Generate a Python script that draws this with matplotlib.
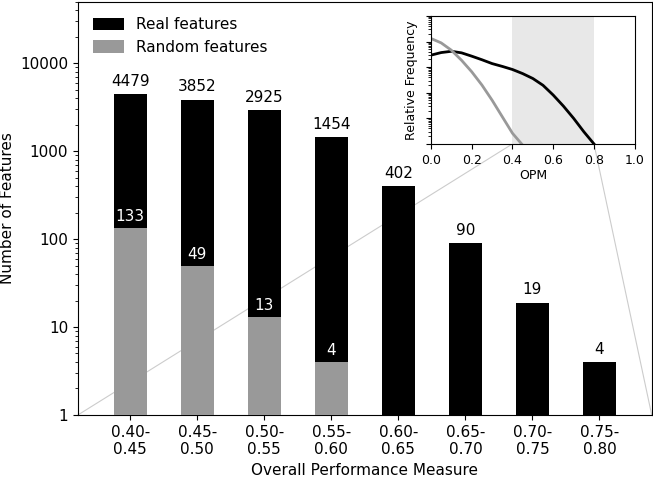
import matplotlib
matplotlib.use("Agg")
import matplotlib.pyplot as plt
from matplotlib.patches import ConnectionPatch
from matplotlib.ticker import LogLocator, NullFormatter
import numpy as np

# bar data
bins = ["0.40-\n0.45", "0.45-\n0.50", "0.50-\n0.55", "0.55-\n0.60",
        "0.60-\n0.65", "0.65-\n0.70", "0.70-\n0.75", "0.75-\n0.80"]
real_counts = [4479, 3852, 2925, 1454, 402, 90, 19, 4]
random_counts = [133, 49, 13, 4, 0, 0, 0, 0]

# inset curves
opm_real = [0.0, 0.05, 0.1, 0.15, 0.2, 0.25, 0.3, 0.35, 0.4, 0.45,
            0.5, 0.55, 0.6, 0.65, 0.7, 0.75, 0.81]
freq_real = [0.0295, 0.0372, 0.0417, 0.0363, 0.0269, 0.0195, 0.0138, 0.0107,
             0.0081, 0.0056, 0.0036, 0.00195, 0.00081, 0.0003, 1.0e-4, 3.0e-5, 8e-6]
opm_rand = [0.0, 0.05, 0.1, 0.15, 0.2, 0.25, 0.3, 0.35, 0.4, 0.455]
freq_rand = [0.132, 0.089, 0.046, 0.0186, 0.0066, 0.0020, 0.00051, 0.000115,
             2.6e-5, 8e-6]

fig = plt.figure(figsize=(6.53, 4.78), dpi=100)
ax = fig.add_axes([0.1195, 0.132, 0.8785, 0.864])

x = np.arange(len(bins))
ax.bar(x, real_counts, width=0.5, color="black", label="Real features", zorder=2)
rx = [i for i, v in enumerate(random_counts) if v > 0]
ry = [v for v in random_counts if v > 0]
ax.bar(rx, ry, width=0.5, color="#999999", label="Random features", zorder=3)

ax.set_yscale("log")
ax.set_ylim(1, 50000)
ax.set_xlim(-0.78, 7.78)
ax.set_yticks([1, 10, 100, 1000, 10000])
ax.set_yticklabels(["1", "10", "100", "1000", "10000"])
ax.set_xticks(x)
ax.set_xticklabels(bins)
ax.tick_params(labelsize=11)
ax.set_xlabel("Overall Performance Measure", fontsize=11)
ax.set_ylabel("Number of Features", fontsize=11)

for i, v in enumerate(real_counts):
    ax.text(i, v * 1.15, str(v), ha="center", va="bottom", fontsize=11)
for i, v in zip(rx, ry):
    ax.text(i, v * 1.12, str(v), ha="center", va="bottom", fontsize=11,
            color="white", zorder=4)

ax.legend(loc="upper left", frameon=False, fontsize=11,
          handlelength=2.0, handleheight=0.9, borderaxespad=0.6)

# inset
ins = fig.add_axes([0.66, 0.699, 0.312, 0.2675])
ins.axvspan(0.4, 0.8, color="#e8e8e8", lw=0)
ins.plot(opm_real, freq_real, color="black", lw=2)
ins.plot(opm_rand, freq_rand, color="#999999", lw=2)
ins.set_yscale("log")
ins.set_ylim(1e-5, 1)
ins.set_xlim(0, 1)
ins.yaxis.set_major_locator(LogLocator(base=10, numticks=10))
ins.yaxis.set_minor_locator(LogLocator(base=10, subs=np.arange(2, 10), numticks=10))
ins.yaxis.set_minor_formatter(NullFormatter())
ins.set_xticks([0.0, 0.2, 0.4, 0.6, 0.8, 1.0])
ins.tick_params(labelsize=9, labelleft=False)
ins.set_xlabel("OPM", fontsize=9, labelpad=2)
ins.set_ylabel("Relative Frequency", fontsize=9)

# zoom lines from the inset shaded band to the main axes
for xi, corner in [(0.4, (0, 0)), (0.8, (1, 0))]:
    con = ConnectionPatch(xyA=(xi, 1e-5), coordsA=ins.transData,
                          xyB=corner, coordsB=ax.transAxes,
                          color="#cccccc", lw=0.8, zorder=0.5)
    ax.add_artist(con)

fig.savefig("out.png", dpi=100)
